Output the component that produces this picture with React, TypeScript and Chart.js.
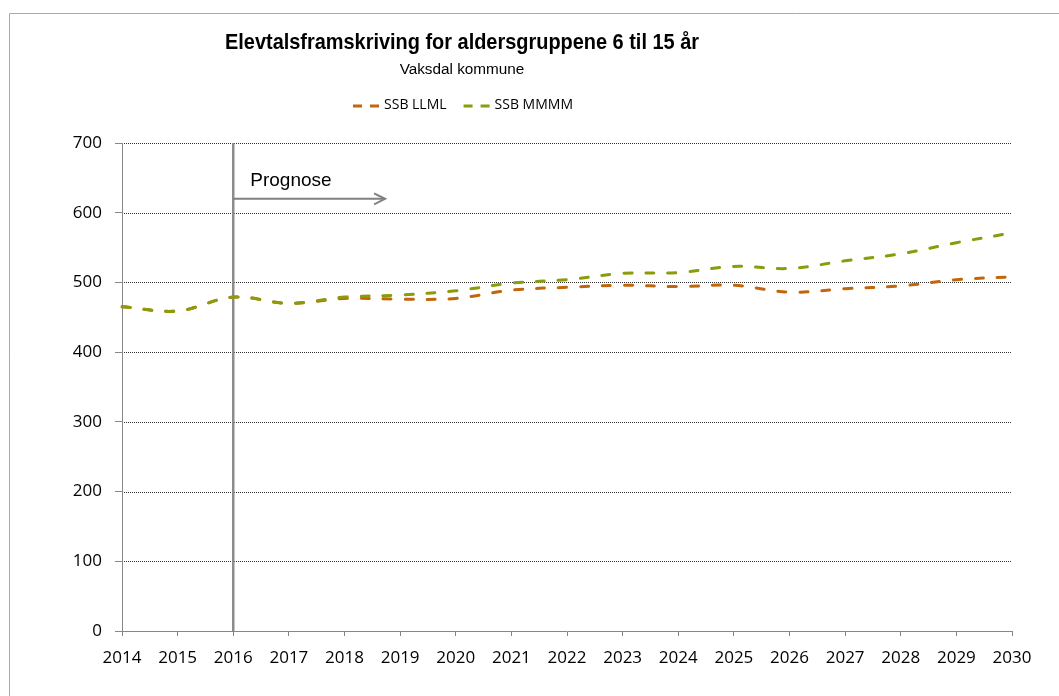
import React, { useEffect, useRef } from "react";
import { Chart, registerables } from "chart.js";

Chart.register(...registerables);

const years = ["2014", "2015", "2016", "2017", "2018", "2019", "2020", "2021", "2022", "2023", "2024", "2025", "2026", "2027", "2028", "2029", "2030"];
const ssbLLML = [465, 459, 479, 470, 477, 476, 477, 489, 493, 496, 494, 496, 486, 491, 495, 504, 508];
const ssbMMMM = [465, 459, 479, 470, 479, 482, 488, 499, 504, 513, 514, 523, 520, 531, 541, 557, 571];
const seriesNames = ["SSB LLML", "SSB MMMM"];
const seriesColors = ["#C2660E", "#8A9B0C"];
const yMin = 0;
const yMax = 700;
const yStep = 100;

const titleText = "Elevtalsframskriving for aldersgruppene 6 til 15 år";
const subtitleText = "Vaksdal kommune";
const prognoseLabel = "Prognose";
const prognoseStartYear = "2016";
const prognoseArrowEndIndex = 4.73; // position along the category axis (in year steps from 2014)
const prognoseArrowValue = 620;
const prognoseTextValue = 646;

const AXIS_GREY = "#868686";
const TEXT_FONT = "'Open Sans', 'Noto Sans', sans-serif";
const ARIAL = "'Liberation Sans', Arial, sans-serif";

const decorPlugin = {
  id: "decor",
  beforeDraw(chart: any) {
    const { ctx, width, height } = chart;
    ctx.save();
    ctx.fillStyle = "#ffffff";
    ctx.fillRect(0, 0, width, height);
    // outer chart frame
    ctx.strokeStyle = "#a9a9a9";
    ctx.lineWidth = 1;
    ctx.beginPath();
    ctx.moveTo(9.5, height);
    ctx.lineTo(9.5, 13.5);
    ctx.lineTo(width, 13.5);
    ctx.stroke();
    // dotted horizontal gridlines
    const ys = chart.scales.y;
    const { left, right } = chart.chartArea;
    ctx.strokeStyle = "#333333";
    ctx.setLineDash([1, 1]);
    ys.ticks.forEach((t: any) => {
      if (t.value === yMin) return;
      const py = Math.round(ys.getPixelForValue(t.value)) + 0.5;
      ctx.beginPath();
      ctx.moveTo(left, py);
      ctx.lineTo(right, py);
      ctx.stroke();
    });
    ctx.restore();
  },
  beforeDatasetsDraw(chart: any) {
    const { ctx } = chart;
    const xs = chart.scales.x;
    const ys = chart.scales.y;
    const { top, bottom } = chart.chartArea;
    const startIdx = years.indexOf(prognoseStartYear);
    const px = xs.getPixelForValue(startIdx);
    ctx.save();
    ctx.strokeStyle = "#8c8c8c";
    ctx.lineWidth = 2.5;
    ctx.beginPath();
    ctx.moveTo(px, top);
    ctx.lineTo(px, bottom);
    ctx.stroke();
    // arrow
    const ay = ys.getPixelForValue(prognoseArrowValue);
    const ax2 = xs.getPixelForValue(prognoseArrowEndIndex);
    ctx.strokeStyle = "#808080";
    ctx.lineWidth = 2;
    ctx.beginPath();
    ctx.moveTo(px, ay);
    ctx.lineTo(ax2, ay);
    ctx.stroke();
    ctx.beginPath();
    ctx.moveTo(ax2 - 11, ay - 5.5);
    ctx.lineTo(ax2, ay);
    ctx.lineTo(ax2 - 11, ay + 5.5);
    ctx.stroke();
    // label
    ctx.fillStyle = "#000";
    ctx.font = `19px ${ARIAL}`;
    ctx.textAlign = "left";
    ctx.textBaseline = "middle";
    ctx.fillText(prognoseLabel, px + 17, ys.getPixelForValue(prognoseTextValue));
    ctx.restore();
  },
  afterDraw(chart: any) {
    const { ctx } = chart;
    const cx = 462;
    ctx.save();
    ctx.fillStyle = "#000";
    ctx.textAlign = "center";
    ctx.textBaseline = "alphabetic";
    // title (slightly condensed like the original)
    ctx.font = `bold 22px ${ARIAL}`;
    const tw = ctx.measureText(titleText).width;
    const sx = Math.min(1, 474 / tw);
    ctx.save();
    ctx.translate(cx, 49);
    ctx.scale(sx, 1);
    ctx.fillText(titleText, 0, 0);
    ctx.restore();
    ctx.font = `15.3px ${ARIAL}`;
    ctx.fillText(subtitleText, cx, 73.5);
    // legend
    ctx.font = `14px ${TEXT_FONT}`;
    const symW = 26;
    const symGap = 5;
    const itemGap = 17;
    const widths = seriesNames.map((n) => ctx.measureText(n).width);
    const total = widths.reduce((a, w) => a + symW + symGap + w, 0) + itemGap * (seriesNames.length - 1);
    let x = cx - total / 2 + 1;
    const ly = 106;
    seriesNames.forEach((n, i) => {
      ctx.strokeStyle = seriesColors[i];
      ctx.lineWidth = 3;
      ctx.lineCap = "butt";
      ctx.beginPath();
      ctx.moveTo(x, ly);
      ctx.lineTo(x + 9, ly);
      ctx.moveTo(x + 17, ly);
      ctx.lineTo(x + 26, ly);
      ctx.stroke();
      ctx.fillStyle = "#000";
      ctx.textAlign = "left";
      ctx.textBaseline = "middle";
      ctx.fillText(n, x + symW + symGap, ly - 1);
      x += symW + symGap + widths[i] + itemGap;
    });
    ctx.restore();
  },
};

export default function App() {
  const ref = useRef<HTMLCanvasElement>(null);
  useEffect(() => {
    if (!ref.current) return;
    Chart.defaults.font.family = TEXT_FONT;
    const chart = new Chart(ref.current, {
      type: "line",
      data: {
        labels: years,
        datasets: [
          {
            label: seriesNames[0],
            data: ssbLLML,
            borderColor: seriesColors[0],
            backgroundColor: seriesColors[0],
            borderWidth: 3,
            borderDash: [8, 14],
            borderCapStyle: "round",
            pointRadius: 0,
            tension: 0.35,
            fill: false,
            order: 1,
          },
          {
            label: seriesNames[1],
            data: ssbMMMM,
            borderColor: seriesColors[1],
            backgroundColor: seriesColors[1],
            borderWidth: 3,
            borderDash: [8, 14],
            borderCapStyle: "round",
            pointRadius: 0,
            tension: 0.35,
            fill: false,
            order: 0,
          },
        ],
      },
      options: {
        responsive: false,
        animation: false,
        layout: { padding: { left: 0, right: 47, top: 143, bottom: 0 } },
        plugins: {
          legend: { display: false },
          title: { display: false },
          tooltip: { enabled: false },
        },
        scales: {
          x: {
            type: "category",
            offset: false,
            grid: { display: true, drawOnChartArea: false, drawTicks: true, tickLength: 5, color: AXIS_GREY, lineWidth: 1 },
            border: { display: true, color: AXIS_GREY, width: 1 },
            ticks: { color: "#000", font: { size: 17, family: TEXT_FONT }, padding: 12, maxRotation: 0, autoSkip: false },
            afterFit: (s: any) => {
              s.height = 65;
            },
          },
          y: {
            min: yMin,
            max: yMax,
            grid: { display: true, drawOnChartArea: false, drawTicks: true, tickLength: 7, color: AXIS_GREY, lineWidth: 1 },
            border: { display: true, color: AXIS_GREY, width: 1 },
            ticks: { stepSize: yStep, color: "#000", font: { size: 17, family: TEXT_FONT }, padding: 13 },
            afterFit: (s: any) => {
              s.width = 122;
            },
          },
        },
      },
      plugins: [decorPlugin],
    } as any);
    return () => chart.destroy();
  }, []);
  return (
    <div style={{ position: "fixed", left: 0, top: 0, width: 1059, height: 696, overflow: "hidden", background: "#fff" }}>
      <canvas ref={ref} width={1059} height={696} style={{ display: "block" }} />
    </div>
  );
}
